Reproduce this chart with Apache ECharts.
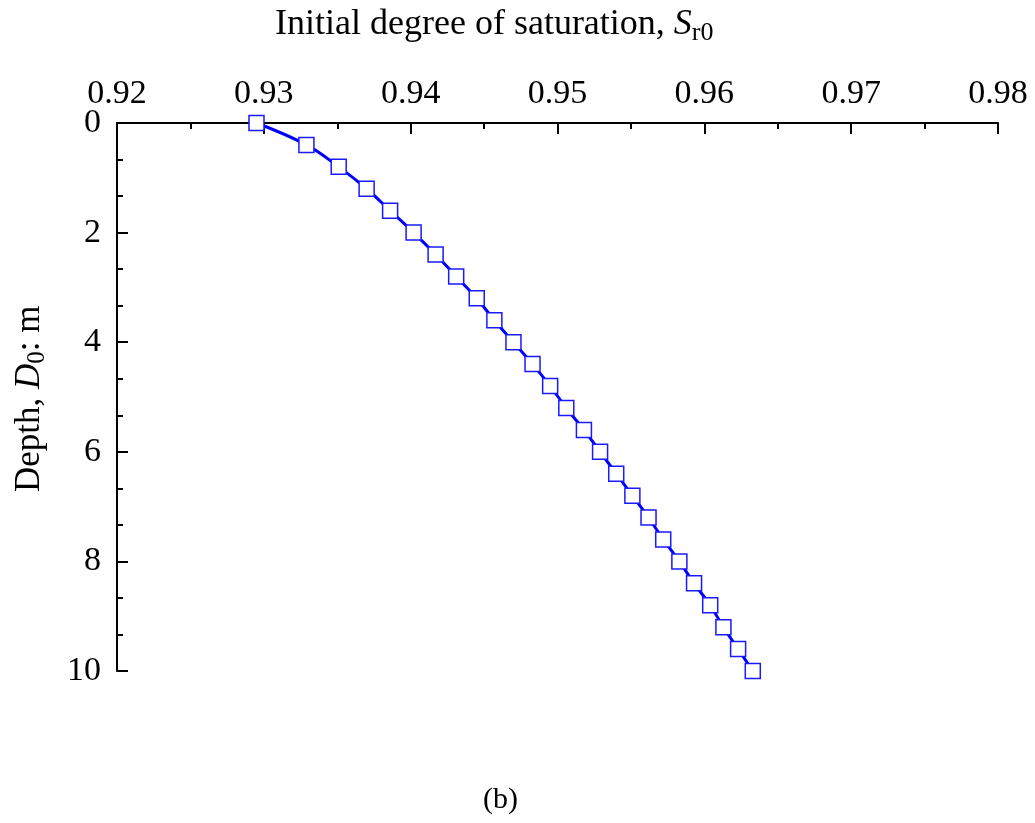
<!DOCTYPE html>
<html>
<head>
<meta charset="utf-8">
<script src="https://cdn.jsdelivr.net/npm/echarts@6/dist/echarts.min.js"></script>
<style>html,body{margin:0;padding:0;background:#fff;}#c{width:1035px;height:823px;}</style>
</head>
<body>
<div id="c"></div>
<script>
const depths = [0,0.4,0.8,1.2,1.6,2.0,2.4,2.8,3.2,3.6,4.0,4.4,4.8,5.2,5.6,6.0,6.4,6.8,7.2,7.6,8.0,8.4,8.8,9.2,9.6,10];
const saturation = [0.9295,0.9329,0.9351,0.9370,0.9386,0.9402,0.9417,0.9431,0.9445,0.9457,0.9470,0.9483,0.9495,0.9506,0.9518,0.9529,0.9540,0.9551,0.9562,0.9572,0.9583,0.9593,0.9604,0.9613,0.9623,0.9633];
const xTicks = ['0.92','0.93','0.94','0.95','0.96','0.97','0.98'];
const yTicks = ['0','2','4','6','8','10'];

const font = 'Liberation Serif';
const chart = echarts.init(document.getElementById('c'));
chart.setOption({
  animation: false,
  backgroundColor: '#fff',
  grid: {left: 117, top: 123, right: 37, bottom: 152},
  xAxis: {
    type: 'value', position: 'top', min: 0.92, max: 0.98, interval: 0.01,
    axisLine: {show: true, lineStyle: {color: '#000', width: 2}},
    axisTick: {show: true, inside: true, length: 11, lineStyle: {color: '#000', width: 2}},
    minorTick: {show: true, splitNumber: 2, length: 6, lineStyle: {color: '#000', width: 2}},
    splitLine: {show: false},
    axisLabel: {fontFamily: font, fontSize: 34, color: '#000', margin: 12,
      formatter: v => { const s = v.toFixed(2); return xTicks.indexOf(s) >= 0 ? s : ''; }}
  },
  yAxis: {
    type: 'value', inverse: true, min: 0, max: 10, interval: 2,
    axisLine: {show: true, lineStyle: {color: '#000', width: 2}},
    axisTick: {show: true, inside: true, length: 11, lineStyle: {color: '#000', width: 2}},
    minorTick: {show: true, splitNumber: 3, length: 6, lineStyle: {color: '#000', width: 2}},
    splitLine: {show: false},
    axisLabel: {fontFamily: font, fontSize: 34, color: '#000', margin: 16,
      formatter: v => { const s = String(Math.round(v)); return yTicks.indexOf(s) >= 0 ? s : ''; }}
  },
  graphic: [
    {type: 'text', left: 275, top: 7, style: {
      rich: {n: {fontFamily: font, fontSize: 36, fill: '#000'},
             i: {fontFamily: font, fontSize: 36, fontStyle: 'italic', fill: '#000'},
             s: {fontFamily: font, fontSize: 26, fill: '#000', padding: [16, 0, 0, 0]}},
      text: '{n|Initial degree of saturation, }{i|S}{s|r0}'
    }},
    {type: 'text', x: 9, y: 492, rotation: Math.PI / 2, style: {
      rich: {n: {fontFamily: font, fontSize: 35, fill: '#000'},
             i: {fontFamily: font, fontSize: 35, fontStyle: 'italic', fill: '#000'},
             s: {fontFamily: font, fontSize: 25, fill: '#000', padding: [16, 0, 0, 0]}},
      text: '{n|Depth, }{i|D}{s|0}{n|: m}'
    }},
    {type: 'text', left: 483, top: 785, style: {text: '(b)', fontFamily: font, fontSize: 30, fill: '#000'}}
  ],
  series: [{
    type: 'line',
    data: depths.map((d, i) => [saturation[i], d]),
    smooth: 0.4,
    symbol: 'rect', symbolSize: 15,
    lineStyle: {color: '#0000ff', width: 3},
    itemStyle: {color: '#fff', borderColor: '#1a1aff', borderWidth: 1.5},
    z: 3
  }]
});
</script>
</body>
</html>
